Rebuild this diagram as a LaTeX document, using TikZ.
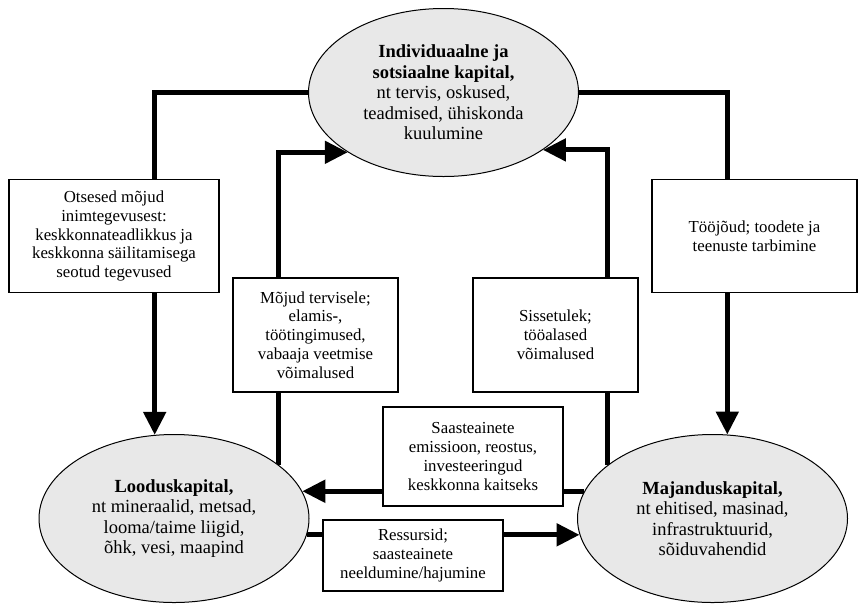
\documentclass[tikz,border=0pt]{standalone}
\usepackage{fontspec}
\setmainfont{Liberation Serif}
\usetikzlibrary{shapes.geometric,arrows.meta,backgrounds}
\definecolor{capgray}{gray}{0.91}
\begin{document}
\begin{tikzpicture}[x=1pt, y=-1pt, >={Triangle[length=23pt,width=22pt]},
    capital/.style={ellipse, draw, line width=1pt, fill=capgray, minimum width=270pt,
        minimum height=168pt, inner sep=0pt, align=center, font=\fontsize{18.5}{20.5}\selectfont},
    effect/.style={draw, line width=1.2pt, fill=white, inner sep=0pt, align=center,
        font=\fontsize{16.8}{18.8}\selectfont},
    link/.style={line width=5pt}]
\useasboundingbox (0,0) rectangle (858,603);

\node[capital] (ind) at (443.5,92.5) {\textbf{Individuaalne ja}\\\textbf{sotsiaalne kapital,}\\nt tervis, oskused,\\teadmised, ühiskonda\\kuulumine};
\node[capital] (loo) at (174,518.5) {\textbf{Looduskapital,}\\nt mineraalid, metsad,\\looma/taime liigid,\\õhk, vesi, maapind};
\node[capital] (maj) at (712.5,518.5) {\textbf{Majanduskapital,}\\nt ehitised, masinad,\\infrastruktuurid,\\sõiduvahendid};

\node[effect, minimum width=210pt, minimum height=113pt] (otse) at (114,236) {Otsesed mõjud\\inimtegevusest:\\keskkonnateadlikkus ja\\keskkonna säilitamisega\\seotud tegevused};
\node[effect, minimum width=205pt, minimum height=113pt] (too) at (754.5,236) {Tööjõud; toodete ja\\teenuste tarbimine};
\node[effect, minimum width=165pt, minimum height=114pt] (moj) at (315.5,335) {Mõjud tervisele;\\elamis\textbf{-},\\töötingimused,\\vabaaja veetmise\\võimalused};
\node[effect, minimum width=165pt, minimum height=114pt] (sis) at (555.5,335) {Sissetulek;\\tööalased\\võimalused};
\node[effect, minimum width=180pt, minimum height=99pt] (saa) at (473,456.5) {Saasteainete\\emissioon, reostus,\\investeeringud\\keskkonna kaitseks};
\node[effect, minimum width=180pt, minimum height=71pt] (res) at (413,555.5) {Ressursid;\\saasteainete\\neeldumine/hajumine};

\begin{scope}[on background layer]
\draw[link,->] (ind.west) -| (loo.103);
\draw[link,->] (ind.east) -| (maj.80);
\draw[link,->] (loo.27) |- (ind.212);
\draw[link,->] (maj.153) |- (ind.330);
\draw[link,->] (maj.168) -- (loo.12);
\draw[link,->] (loo.353) -- (maj.187);
\end{scope}
\end{tikzpicture}
\end{document}
